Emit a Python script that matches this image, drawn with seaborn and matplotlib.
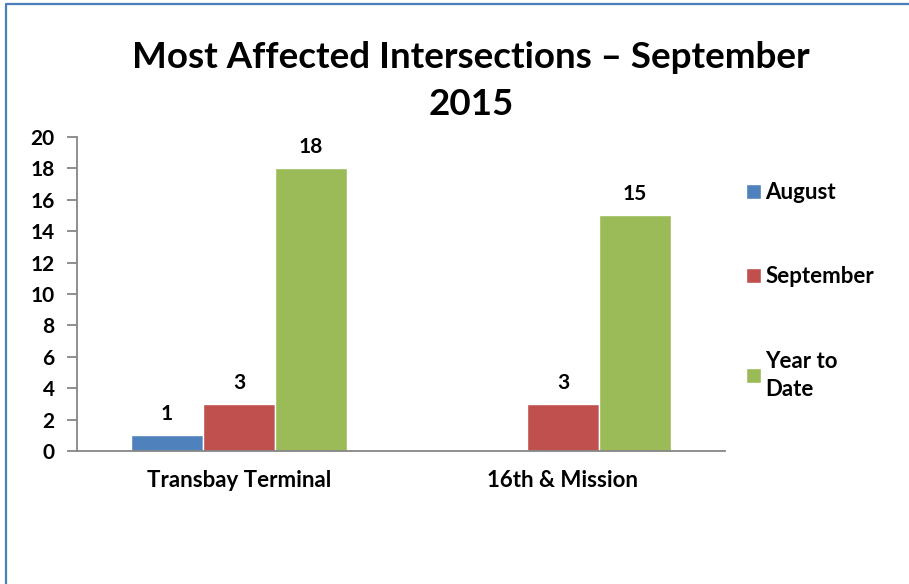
import pandas as pd
import matplotlib.pyplot as plt
import seaborn as sns
from matplotlib.lines import Line2D

# dados do gráfico
intersections = ["Transbay Terminal", "16th & Mission"]
periods = ["August", "September", "Year to Date"]
august = [1, 0]
september = [3, 3]
year_to_date = [18, 15]
colors = ["#4F81BD", "#C0504D", "#9BBB59"]
y_ticks = list(range(0, 21, 2))

df = pd.DataFrame({
    "intersection": intersections * 3,
    "period": [p for p in periods for _ in intersections],
    "count": august + september + year_to_date,
})

sns.set_style("white")
plt.rcParams["font.family"] = ["Lato", "DejaVu Sans"]
plt.rcParams["font.weight"] = "bold"
plt.rcParams["text.color"] = "black"
plt.rcParams["xtick.color"] = "black"
plt.rcParams["ytick.color"] = "black"

fig = plt.figure(figsize=(9.09, 5.84), dpi=100)
ax = fig.add_axes([77 / 909, 1 - 451 / 584, 648 / 909, 314 / 584])

sns.barplot(data=df, x="intersection", y="count", hue="period",
            palette=colors, saturation=1, errorbar=None, width=2 / 3, ax=ax)

for cont in ax.containers:
    labels = [f"{v:g}" if v > 0 else "" for v in cont.datavalues]
    ax.bar_label(cont, labels=labels, padding=8, fontsize=15, fontweight="bold")

ax.set_xlim(-0.5, 1.5)
ax.set_ylim(0, 20)
ax.set_yticks(y_ticks)
ax.set_xlabel("")
ax.set_ylabel("")
ax.set_xticks([-0.5, 0.5, 1.5], minor=True)
ax.tick_params(axis="x", which="major", length=0, pad=14, labelsize=16)
ax.tick_params(axis="x", which="minor", length=7, width=1.3, color="#868686", direction="out")
ax.tick_params(axis="y", length=7, width=1.3, color="#868686", direction="out",
               left=True, pad=9, labelsize=15)
for lab in ax.get_xticklabels() + ax.get_yticklabels():
    lab.set_fontweight("bold")
for side in ["top", "right"]:
    ax.spines[side].set_visible(False)
for side in ["left", "bottom"]:
    ax.spines[side].set_color("#868686")
    ax.spines[side].set_linewidth(1.3)

# legenda
handles, labels = ax.get_legend_handles_labels()
ax.get_legend().remove()
labels = ["August", "September", "Year to\nDate"]
leg = fig.legend(handles, labels, loc="upper left", bbox_to_anchor=(746 / 909, 1 - 182 / 584),
                 frameon=False, fontsize=16, handlelength=0.66, handleheight=0.66,
                 handletextpad=0.22, labelspacing=2.85, borderaxespad=0, borderpad=0)
for t in leg.get_texts():
    t.set_fontweight("bold")
    t.set_linespacing(1.42)

fig.text(471 / 909, 1 - 81 / 584, "Most Affected Intersections – September\n2015",
         ha="center", va="center", fontsize=26.5, fontweight="bold", linespacing=1.5)

# borda do gráfico
x0 = 6 / 909
y1 = 1 - 4 / 584
fig.add_artist(Line2D([x0, x0, 1.01], [-0.01, y1, y1], color="#4A7EBB", linewidth=1.6))

fig.savefig("out.png", dpi=100)
